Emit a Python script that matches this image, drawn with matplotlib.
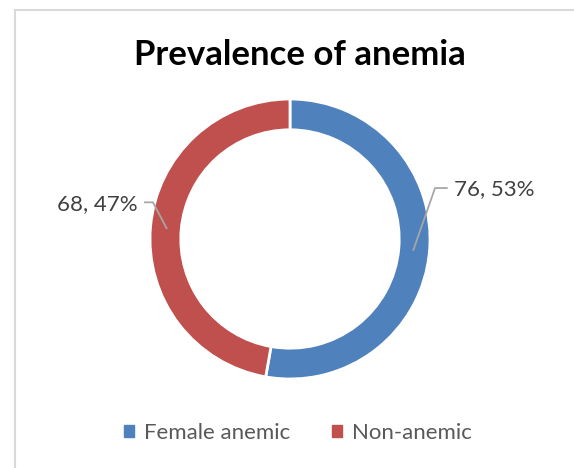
import matplotlib
matplotlib.use("Agg")
import matplotlib.pyplot as plt
import numpy as np

categories = ["Female anemic", "Non-anemic"]
counts = [76, 68]
percents = [53, 47]
colors = ["#4F81BD", "#C0504D"]

plt.rcParams['font.family'] = ['Lato', 'DejaVu Sans']

W, H = 574, 468
fig = plt.figure(figsize=(W / 100, H / 100), dpi=100)
fig.patch.set_facecolor("white")

# chart border (only top and left edges show in the crop)
fig.add_artist(plt.Line2D([14.5 / W, 1], [1 - 10 / H, 1 - 10 / H], color="#D9D9D9", lw=1.5))
fig.add_artist(plt.Line2D([14.5 / W, 14.5 / W], [0, 1 - 10 / H], color="#D9D9D9", lw=1.5))

# donut: centre (290, 239) px, radius 140 px
cx, cy, r = 290, 239, 140
ax = fig.add_axes([(cx - r) / W, (H - cy - r) / H, 2 * r / W, 2 * r / H])
wedges, _ = ax.pie(counts, colors=colors, startangle=90, counterclock=False,
                   radius=1, wedgeprops=dict(width=0.22, edgecolor="white", linewidth=2))
ax.set_xlim(-1, 1)
ax.set_ylim(-1, 1)
ax.set_aspect("equal")
ax.axis("off")

# data labels with leader lines
elbows = [(1.036, 0.364, 1.12), (-0.979, 0.262, -1.036)]
for w, c, p, (ex, ey, hx) in zip(wedges, counts, percents, elbows):
    ang = np.deg2rad((w.theta1 + w.theta2) / 2)
    sx, sy = 0.885 * np.cos(ang), 0.885 * np.sin(ang)
    ax.plot([sx, ex, hx], [sy, ey, ey], color="#A6A6A6", lw=1.3, clip_on=False)
    if hx > 0:
        ax.text(hx + 0.05, ey - 0.01, f"{c}, {p}%", ha="left", va="center",
                fontsize=16, color="#404040")
    else:
        ax.text(hx - 0.05, ey - 0.01, f"{c}, {p}%", ha="right", va="center",
                fontsize=16, color="#404040")

fig.text(300 / W, 1 - 55 / H, "Prevalence of anemia", ha="center", va="center",
         fontsize=25, fontweight="bold", color="black")

handles = [plt.Rectangle((0, 0), 1, 1, color=c) for c in colors]
fig.legend(handles, categories, loc="center", bbox_to_anchor=(298 / W, 1 - 433 / H),
           ncol=2, frameon=False, fontsize=16, labelcolor="#595959",
           handlelength=0.45, handleheight=0.45, handletextpad=0.45, columnspacing=1.85)

fig.savefig("out.png", dpi=100)
